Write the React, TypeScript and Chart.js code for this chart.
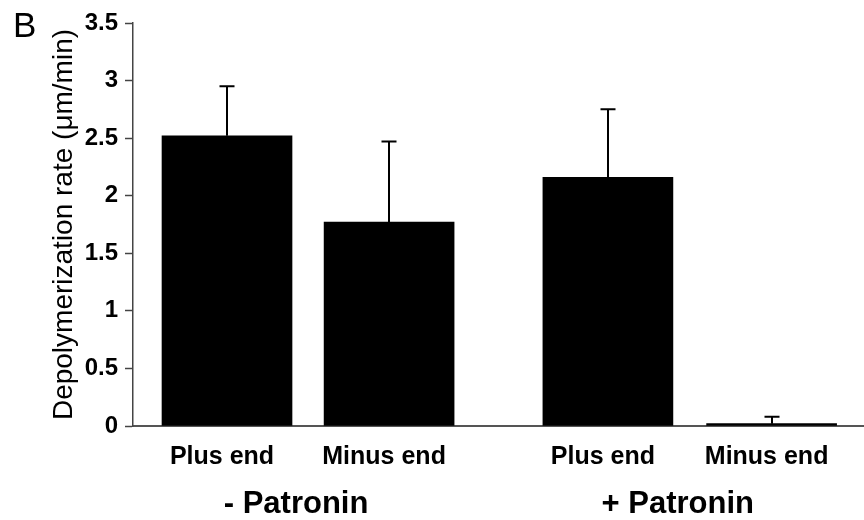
import React, { useEffect, useRef } from "react";
import { Chart, registerables } from "chart.js";

Chart.register(...registerables);

// Depolymerization rate of microtubule ends, with and without Patronin
const categories = ["Plus end", "Minus end", "Plus end", "Minus end"];
const groups = ["- Patronin", "+ Patronin"];
const rates = [2.52, 1.77, 2.16, 0.02];
const errors = [0.43, 0.7, 0.59, 0.06];
const yTicks = [0, 0.5, 1, 1.5, 2, 2.5, 3, 3.5];

// slot positions along the x axis (the two groups are separated by a wider gap)
const slots = [1, 2, 3.35, 4.36];

const FONT = '"Liberation Sans", Arial, Helvetica, sans-serif';

const errorBarPlugin = {
  id: "errorBars",
  afterDatasetsDraw(chart: any) {
    const { ctx } = chart;
    const meta = chart.getDatasetMeta(0);
    const yScale = chart.scales.y;
    ctx.save();
    ctx.strokeStyle = "#000";
    ctx.lineWidth = 2;
    meta.data.forEach((bar: any, i: number) => {
      const top = yScale.getPixelForValue(rates[i] + errors[i]);
      const x = Math.round(bar.x);
      ctx.beginPath();
      ctx.moveTo(x, bar.y);
      ctx.lineTo(x, top);
      ctx.moveTo(x - 7.5, top);
      ctx.lineTo(x + 7.5, top);
      ctx.stroke();
    });
    ctx.restore();
  },
};

const annotationPlugin = {
  id: "groupLabels",
  afterDraw(chart: any) {
    const { ctx } = chart;
    const meta = chart.getDatasetMeta(0);
    ctx.save();
    ctx.fillStyle = "#000";
    // group captions under each pair of bars
    ctx.font = `bold 31px ${FONT}`;
    ctx.textAlign = "center";
    ctx.textBaseline = "alphabetic";
    groups.forEach((g, gi) => {
      const a = meta.data[gi * 2];
      const b = meta.data[gi * 2 + 1];
      const cx = (a.x + b.x) / 2 - 12;
      ctx.fillText(g, cx, 513);
    });
    // panel letter
    ctx.font = `35px ${FONT}`;
    ctx.textAlign = "left";
    ctx.fillText("B", 13, 37);
    ctx.restore();
  },
};

export default function App() {
  const canvasRef = useRef<HTMLCanvasElement | null>(null);

  useEffect(() => {
    if (!canvasRef.current) return;
    const chart = new Chart(canvasRef.current, {
      type: "bar",
      data: {
        datasets: [
          {
            data: rates.map((v, i) => ({ x: slots[i], y: v })),
            backgroundColor: "#000",
            borderWidth: 0,
            barThickness: 130,
          },
        ],
      },
      options: {
        animation: false,
        responsive: true,
        maintainAspectRatio: false,
        layout: { padding: { top: 23, right: 0, bottom: 0, left: 0 } },
        plugins: {
          legend: { display: false },
          tooltip: { enabled: false },
        },
        scales: {
          x: {
            type: "linear",
            min: 0.42,
            max: 4.93,
            offset: false,
            afterBuildTicks: (scale: any) => {
              scale.ticks = slots.map((value) => ({ value }));
            },
            afterFit: (scale: any) => {
              scale.height = 94;
            },
            grid: { display: false, drawTicks: false },
            border: { display: true, color: "#555", width: 2 },
            ticks: {
              autoSkip: false,
              maxRotation: 0,
              minRotation: 0,
              padding: 16,
              labelOffset: -5,
              color: "#000",
              font: { family: FONT, size: 25, weight: "bold" },
              callback: (_v: any, i: number) => categories[i],
            },
          },
          y: {
            min: 0,
            max: 3.5,
            afterBuildTicks: (scale: any) => {
              scale.ticks = yTicks.map((value) => ({ value }));
            },
            afterFit: (scale: any) => {
              scale.width = 133;
            },
            grid: {
              drawOnChartArea: false,
              drawTicks: true,
              tickLength: 8,
              tickColor: "#444",
              tickWidth: 1.5,
            },
            border: { display: true, color: "#444", width: 1.5 },
            ticks: {
              padding: 7,
              color: "#000",
              font: { family: FONT, size: 24, weight: "bold" },
              callback: (v: any) => String(v),
            },
            title: {
              display: true,
              text: "Depolymerization rate (μm/min)",
              color: "#000",
              font: { family: FONT, size: 28, weight: "normal" },
              padding: { top: 47, bottom: 0 },
            },
          },
        },
      },
      plugins: [errorBarPlugin, annotationPlugin],
    });
    return () => chart.destroy();
  }, []);

  return (
    <div
      style={{
        position: "fixed",
        left: 0,
        top: 0,
        width: 864,
        height: 520,
        background: "#fff",
      }}
    >
      <canvas ref={canvasRef} />
    </div>
  );
}
